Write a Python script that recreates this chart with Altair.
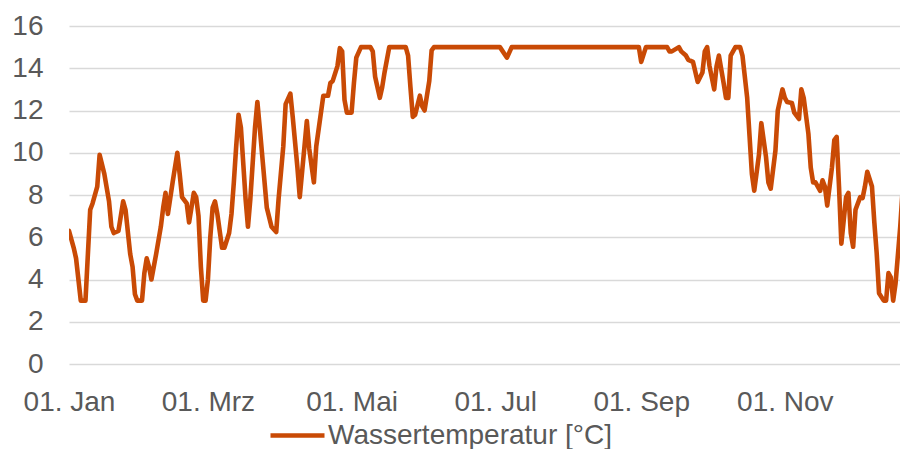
import altair as alt
import pandas as pd

# Day offsets from 01. Jan and water temperature readings (vertices of the line)
days = [0, 2, 3, 5, 7, 9, 10, 12, 13, 15, 17, 18, 19, 21, 23, 24, 26, 27, 28, 29,
        31, 32, 33, 34, 35, 37, 39, 40, 41, 42, 44, 46, 47, 48, 50, 51, 53, 54, 55, 56,
        57, 58, 59, 60, 61, 62, 63, 65, 66, 68, 69, 70, 71, 72, 73, 75, 76, 77, 79, 80,
        81, 84, 86, 88, 89, 91, 92, 94, 95, 97, 98, 101, 102, 104, 105, 107, 108, 110, 111, 112,
        114, 115, 116, 117, 118, 120, 121, 122, 124, 128, 129, 130, 132, 133, 134, 136, 143, 144, 145, 146,
        147, 149, 150, 151, 153, 154, 155, 183, 186, 188, 242, 243, 245, 254, 255, 256, 259, 260, 262, 263,
        265, 267, 269, 270, 271, 272, 274, 275, 276, 278, 279, 280, 281, 283, 285, 286, 288, 289, 290, 291,
        293, 294, 296, 297, 298, 300, 301, 303, 304, 305, 307, 308, 310, 311, 312, 314, 315, 316, 317, 319,
        320, 321, 322, 324, 325, 326, 327, 328, 330, 331, 332, 333, 334, 336, 337, 338, 339, 341, 342, 343,
        344, 346, 347, 348, 349, 350, 351, 353, 354, 356]
temps = [6.3, 5.5, 5.0, 3.0, 3.0, 7.3, 7.6, 8.4, 9.9, 9.0, 7.7, 6.5, 6.2, 6.3, 7.7, 7.3, 5.2, 4.6, 3.3, 3.0,
         3.0, 4.3, 5.0, 4.6, 4.0, 5.2, 6.5, 7.4, 8.1, 7.1, 8.6, 10.0, 9.0, 7.9, 7.6, 6.7, 8.1, 7.9, 7.0, 4.6,
         3.0, 3.0, 4.0, 6.0, 7.4, 7.7, 7.1, 5.5, 5.5, 6.2, 7.1, 8.6, 10.3, 11.8, 11.2, 7.8, 6.5, 7.8, 11.2, 12.4,
         11.2, 7.4, 6.5, 6.25, 7.8, 10.3, 12.3, 12.8, 11.7, 9.3, 7.9, 11.5, 10.2, 8.6, 10.3, 11.9, 12.7, 12.7, 13.3, 13.4,
         14.1, 14.95, 14.8, 12.5, 11.9, 11.9, 13.3, 14.5, 15.0, 15.0, 14.8, 13.6, 12.6, 13.1, 13.8, 15.0, 15.0, 14.6, 13.1, 11.7,
         11.8, 12.7, 12.2, 12.0, 13.4, 14.85, 15.0, 15.0, 14.5, 15.0, 15.0, 14.3, 15.0, 15.0, 14.8, 14.8, 15.0, 14.8, 14.6, 14.4,
         14.3, 13.35, 13.8, 14.8, 15.0, 14.1, 13.0, 14.1, 14.6, 13.3, 12.6, 12.6, 14.6, 15.0, 15.0, 14.6, 12.6, 10.8, 9.0, 8.2,
         9.9, 11.4, 9.8, 8.6, 8.3, 10.1, 12.0, 13.0, 12.6, 12.4, 12.35, 11.9, 11.6, 13.0, 12.6, 10.9, 9.3, 8.6, 8.6, 8.2,
         8.7, 8.4, 7.5, 9.3, 10.6, 10.75, 8.4, 5.7, 7.9, 8.1, 6.2, 5.55, 7.3, 7.9, 7.85, 8.4, 9.1, 8.4, 6.7, 5.25,
         3.35, 3.0, 3.0, 4.3, 4.1, 3.0, 3.8, 6.5, 8.2, 8.7]

tick_dates = ["2019-01-01", "2019-03-01", "2019-05-01", "2019-07-01", "2019-09-01", "2019-11-01"]
tick_labels = ["01. Jan", "01. Mrz", "01. Mai", "01. Jul", "01. Sep", "01. Nov"]
y_ticks = [0, 2, 4, 6, 8, 10, 12, 14, 16]
series_name = "Wassertemperatur [°C]"

base = pd.Timestamp("2019-01-01")
dates = [(base + pd.Timedelta(days=d)).strftime("%Y-%m-%d") for d in days]
df = pd.DataFrame({"Datum": dates, "Temp": temps, "Serie": series_name})

def ms(s):
    return int(pd.Timestamp(s, tz="UTC").timestamp() * 1000)

tick_ms = [ms(t) for t in tick_dates]
label_expr = "''"
for t, lab in reversed(list(zip(tick_dates, tick_labels))):
    label_expr = f"utcFormat(datum.value, '%Y-%m-%d') == '{t}' ? '{lab}' : ({label_expr})"

x_start = ms("2019-01-01")
x_end = x_start + int(352.9 * 86400000)

FONT = "Liberation Sans"
GREY = "#595959"
LINE = "#C94A05"

chart = alt.Chart(df).mark_line(
    strokeWidth=4.6, strokeJoin="round", strokeCap="round", clip=True
).encode(
    x=alt.X("Datum:T",
            scale=alt.Scale(type="utc", domain=[x_start, x_end], nice=False),
            axis=alt.Axis(title=None, values=tick_ms, labelExpr=label_expr,
                          grid=False, domain=False, ticks=False, tickSize=0,
                          labelPadding=24, labelFontSize=28, labelColor=GREY,
                          labelFont=FONT, labelOverlap=False, labelFlush=False)),
    y=alt.Y("Temp:Q",
            scale=alt.Scale(domain=[0, 16], nice=False),
            axis=alt.Axis(title=None, values=y_ticks, grid=True, gridColor="#D9D9D9",
                          gridWidth=1.5, domain=False, ticks=False, tickSize=0,
                          labelPadding=26, labelFontSize=28, labelColor=GREY,
                          labelFont=FONT)),
    color=alt.Color("Serie:N",
                    scale=alt.Scale(range=[LINE]),
                    legend=alt.Legend(title=None, orient="none", legendX=199, legendY=380,
                                      symbolType="stroke", symbolSize=2916,
                                      symbolStrokeWidth=4.6, labelFontSize=28,
                                      labelColor=GREY, labelFont=FONT, labelOffset=1,
                                      labelLimit=400)),
).properties(
    width=831, height=338,
    autosize=alt.AutoSizeParams(type="none"),
    padding={"left": 61, "top": 18, "right": 0, "bottom": 85},
).configure_view(stroke=None)

chart.save("out.html", embed_options={"renderer": "svg", "actions": False})
